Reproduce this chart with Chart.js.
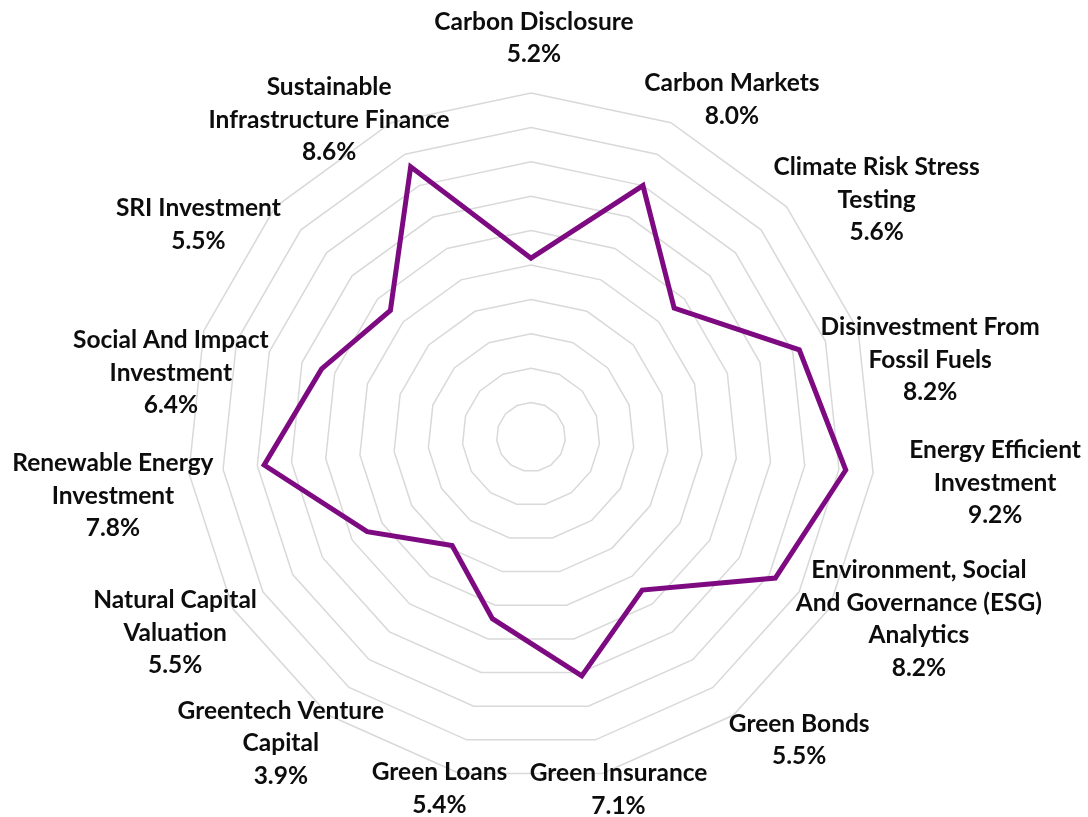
<!DOCTYPE html>
<html>
<head>
<meta charset="utf-8">
<title>Sustainable finance topics</title>
<script src="https://cdn.jsdelivr.net/npm/chart.js@4.4.1/dist/chart.umd.min.js"></script>
<style>
  html, body { margin: 0; padding: 0; background: #ffffff; }
  #wrap { width: 1088px; height: 817px; position: relative; }
</style>
</head>
<body>
<div id="wrap"><canvas id="chart" width="1088" height="817"></canvas></div>
<script>
// Topic names, one entry per spoke, split into display lines
const topics = [
  ['Carbon Disclosure'],
  ['Carbon Markets'],
  ['Climate Risk Stress', 'Testing'],
  ['Disinvestment From', 'Fossil Fuels'],
  ['Energy Efficient', 'Investment'],
  ['Environment, Social', 'And Governance (ESG)', 'Analytics'],
  ['Green Bonds'],
  ['Green Insurance'],
  ['Green Loans'],
  ['Greentech Venture', 'Capital'],
  ['Natural Capital', 'Valuation'],
  ['Renewable Energy', 'Investment'],
  ['Social And Impact', 'Investment'],
  ['SRI Investment'],
  ['Sustainable', 'Infrastructure Finance']
];

// Share of each topic, in percent
const shares = [5.2, 8.0, 5.6, 8.2, 9.2, 8.2, 5.5, 7.1, 5.4, 3.9, 5.5, 7.8, 6.4, 5.5, 8.6];

// Radial axis range and ring step
const axisMin = 0;
const axisMax = 10;
const axisStep = 1;

// Where each label block sits relative to the tip of its spoke (outer ring vertex)
const labelShift = [
  [3, -55], [61, -23], [90, -7], [72, 29], [122, 10],
  [90, 10], [66, 25], [16, 16], [-20, 15], [-48, 28],
  [-58, 24], [-76, 23], [-33, 42], [-77, 18], [-62, -3]
];

const LABEL_FONT = 'bold 24.5px Lato, "Open Sans", sans-serif';
const LINE_HEIGHT = 32.5;

const spokeLabels = {
  id: 'spokeLabels',
  afterDraw(chart) {
    const scale = chart.scales.r;
    const ctx = chart.ctx;
    ctx.save();
    ctx.font = LABEL_FONT;
    ctx.fillStyle = '#0d0d0d';
    ctx.textAlign = 'center';
    ctx.textBaseline = 'middle';
    topics.forEach((lines, i) => {
      const tip = scale.getPointPosition(i, scale.drawingArea);
      const all = lines.concat([shares[i].toFixed(1) + '%']);
      const cx = tip.x + labelShift[i][0];
      const cy = tip.y + labelShift[i][1];
      const top = cy - (all.length - 1) * LINE_HEIGHT / 2;
      all.forEach((t, j) => ctx.fillText(t, cx, top + j * LINE_HEIGHT));
    });
    ctx.restore();
  }
};

const whiteBg = {
  id: 'whiteBg',
  beforeDraw(chart) {
    const ctx = chart.ctx;
    ctx.save();
    ctx.fillStyle = '#ffffff';
    ctx.fillRect(0, 0, chart.width, chart.height);
    ctx.restore();
  }
};

new Chart(document.getElementById('chart'), {
  type: 'radar',
  data: {
    labels: topics.map(t => t.join(' ')),
    datasets: [{
      data: shares,
      borderColor: '#7d0a80',
      borderWidth: 5,
      borderJoinStyle: 'miter',
      backgroundColor: 'transparent',
      fill: false,
      pointRadius: 0,
      pointHoverRadius: 0,
      tension: 0
    }]
  },
  options: {
    responsive: false,
    animation: false,
    layout: { padding: { left: 187, right: 213, top: 93, bottom: 36 } },
    plugins: {
      legend: { display: false },
      tooltip: { enabled: false }
    },
    scales: {
      r: {
        min: axisMin,
        max: axisMax,
        ticks: { display: false, stepSize: axisStep },
        grid: { color: '#d9d9d9', lineWidth: 1.5 },
        angleLines: { display: false },
        pointLabels: { display: false }
      }
    }
  },
  plugins: [whiteBg, spokeLabels]
});
</script>
</body>
</html>
